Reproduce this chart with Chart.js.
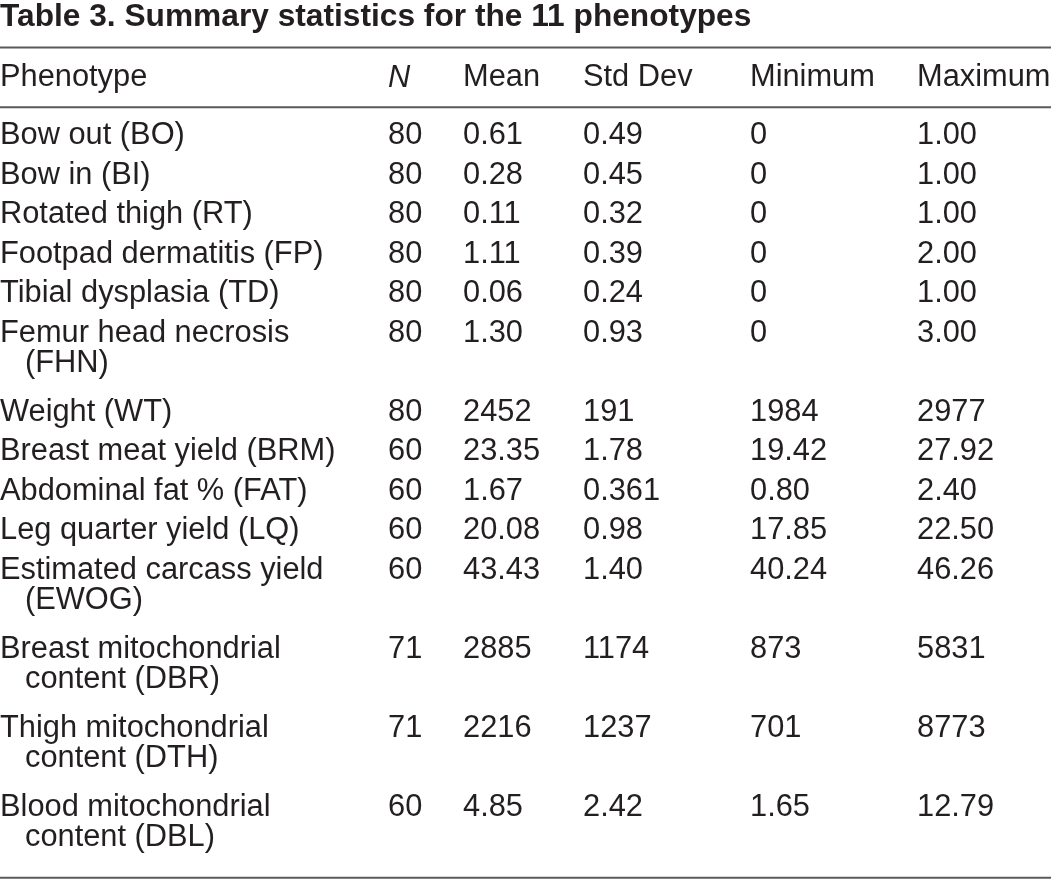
<!DOCTYPE html>
<html>
<head>
<meta charset="utf-8">
<script src="https://cdn.jsdelivr.net/npm/chart.js@4.4.0/dist/chart.umd.min.js"></script>
<style>
  body { margin: 0; background: #fff; }
  #box { width: 1051px; height: 880px; position: relative; }
</style>
</head>
<body>
<div id="box"><canvas id="tabella"></canvas></div>
<script>
// titolo e intestazioni
var titolo = 'Table 3. Summary statistics for the 11 phenotypes';
var intestazioni = ['Phenotype', 'N', 'Mean', 'Std Dev', 'Minimum', 'Maximum'];

// righe (quelle lunghe vanno a capo)
var fenotipi = [
  ['Bow out (BO)'],
  ['Bow in (BI)'],
  ['Rotated thigh (RT)'],
  ['Footpad dermatitis (FP)'],
  ['Tibial dysplasia (TD)'],
  ['Femur head necrosis', '(FHN)'],
  ['Weight (WT)'],
  ['Breast meat yield (BRM)'],
  ['Abdominal fat % (FAT)'],
  ['Leg quarter yield (LQ)'],
  ['Estimated carcass yield', '(EWOG)'],
  ['Breast mitochondrial', 'content (DBR)'],
  ['Thigh mitochondrial', 'content (DTH)'],
  ['Blood mitochondrial', 'content (DBL)']
];
var valori_n = [80, 80, 80, 80, 80, 80, 80, 60, 60, 60, 60, 71, 71, 60];
var medie = [0.61, 0.28, 0.11, 1.11, 0.06, 1.30, 2452, 23.35, 1.67, 20.08, 43.43, 2885, 2216, 4.85];
var dev_std = [0.49, 0.45, 0.32, 0.39, 0.24, 0.93, 191, 1.78, 0.361, 0.98, 1.40, 1174, 1237, 2.42];
var minimi = [0, 0, 0, 0, 0, 0, 1984, 19.42, 0.80, 17.85, 40.24, 873, 701, 1.65];
var massimi = [1.00, 1.00, 1.00, 2.00, 1.00, 3.00, 2977, 27.92, 2.40, 22.50, 46.26, 5831, 8773, 12.79];
// cifre decimali per riga
var decimali = [2, 2, 2, 2, 2, 2, 0, 2, 2, 2, 2, 0, 0, 2];

// layout (non dati)
var colonne_x = [0, 388, 463, 583, 750, 917];
var rientro = 25;
var passo_acapo = 0.76;   // riga a capo, in unita' di riga
var offset_testo = 2;     // px, per centrare le maiuscole
var font_testo = '30.8px "Liberation Sans", Arial, sans-serif';
var font_titolo = 'bold 31.7px "Liberation Sans", Arial, sans-serif';
var colore_testo = '#231f20';
var colore_righe = '#5a5a5a';

function formatta(v, d) {
  if (v === 0) return '0';
  var s = String(v);
  var k = s.indexOf('.') < 0 ? 0 : s.length - s.indexOf('.') - 1;
  return v.toFixed(Math.max(d, k));
}

// posizione verticale di ogni riga (le righe a capo occupano uno slot in piu')
var slot_righe = [];
var s = 0;
for (var i = 0; i < fenotipi.length; i++) {
  slot_righe.push(s);
  s += fenotipi[i].length;
}
var ultimo_slot = s;

var riga_titolo = -3.0;
var riga_intest = -1.47;
var filetti = [-2.19, -0.68, ultimo_slot - 0.17];

var dataset_filetti = filetti.map(function (y) {
  return {
    type: 'line',
    data: [{ x: 0, y: y }, { x: 1051, y: y }],
    borderColor: colore_righe,
    borderWidth: 2,
    pointRadius: 0,
    fill: false
  };
});

var pluginTesto = {
  id: 'testoTabella',
  afterDatasetsDraw: function (chart) {
    var ctx = chart.ctx;
    var sx = chart.scales.x, sy = chart.scales.y;
    ctx.save();
    ctx.fillStyle = colore_testo;
    ctx.textBaseline = 'middle';
    ctx.textAlign = 'left';

    ctx.font = font_titolo;
    ctx.fillText(titolo, sx.getPixelForValue(0), sy.getPixelForValue(riga_titolo) + offset_testo);

    for (var c = 0; c < intestazioni.length; c++) {
      ctx.font = c == 1 ? 'italic ' + font_testo : font_testo;
      ctx.fillText(intestazioni[c], sx.getPixelForValue(colonne_x[c]), sy.getPixelForValue(riga_intest) + offset_testo);
    }

    ctx.font = font_testo;
    for (var r = 0; r < fenotipi.length; r++) {
      var y = sy.getPixelForValue(slot_righe[r]) + offset_testo;
      for (var l = 0; l < fenotipi[r].length; l++) {
        var yl = sy.getPixelForValue(slot_righe[r] + l * passo_acapo) + offset_testo;
        ctx.fillText(fenotipi[r][l], sx.getPixelForValue(colonne_x[0] + (l > 0 ? rientro : 0)), yl);
      }
      var celle = [
        formatta(valori_n[r], 0),
        formatta(medie[r], decimali[r]),
        formatta(dev_std[r], decimali[r]),
        formatta(minimi[r], decimali[r]),
        formatta(massimi[r], decimali[r])
      ];
      for (var c = 0; c < celle.length; c++) {
        ctx.fillText(celle[c], sx.getPixelForValue(colonne_x[c + 1]), y);
      }
    }
    ctx.restore();
  }
};

var tabella = new Chart(document.getElementById('tabella'), {
  type: 'scatter',
  data: { datasets: dataset_filetti },
  options: {
    responsive: true,
    maintainAspectRatio: false,
    animation: false,
    layout: { padding: 0 },
    plugins: { legend: { display: false }, tooltip: { enabled: false }, title: { display: false } },
    scales: {
      x: { type: 'linear', display: false, min: 0, max: 1051 },
      y: { type: 'linear', display: false, reverse: true, min: -134 / 39.5, max: (880 - 134) / 39.5 }
    }
  },
  plugins: [pluginTesto]
});
</script>
</body>
</html>
